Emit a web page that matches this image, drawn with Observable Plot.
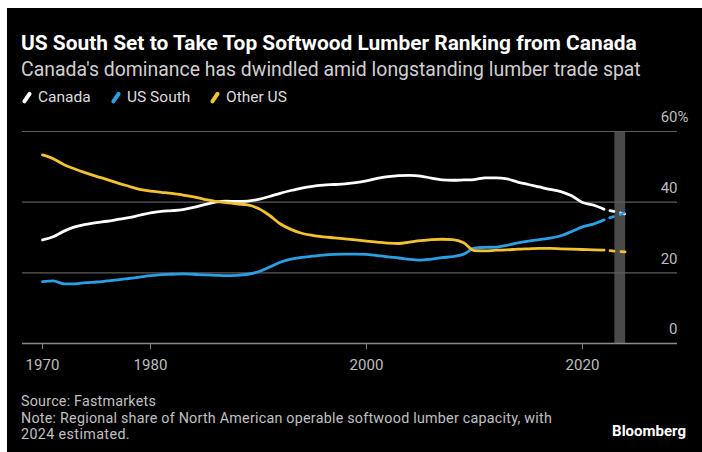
<!DOCTYPE html>
<html><head><meta charset="utf-8">
<script src="https://cdn.jsdelivr.net/npm/d3@7"></script>
<script src="https://cdn.jsdelivr.net/npm/@observablehq/plot@0.6"></script>
<style>
html,body{margin:0;padding:0;background:#fff;width:702px;height:452px;overflow:hidden;position:relative}
#card{position:absolute;left:7px;top:8px;right:0;bottom:0;background:#000;}
.t{position:absolute;white-space:nowrap;font-family:Roboto,"Liberation Sans",sans-serif;line-height:1;}
#chart{position:absolute;left:0;top:105px;}
.sw{position:absolute;width:3.5px;height:13px;border-radius:2px;transform:rotate(35deg);top:91px}
.ft{font-size:14.3px;color:#c0c0c0}
</style></head><body>
<div id="card"></div>
<div class="t" id="title" style="left:21px;top:33px;font-weight:700;font-size:19px;color:#fff">US South Set to Take Top Softwood Lumber Ranking from Canada</div>
<div class="t" id="sub" style="left:21px;top:60px;font-size:17px;color:#d0d0d0">Canada's dominance has dwindled amid longstanding lumber trade spat</div>
<div id="legend"></div>
<div id="chart"></div>
<div class="t ft" id="src" style="left:21px;top:394px">Source: Fastmarkets</div>
<div class="t ft" id="note1" style="left:21px;top:411px">Note: Regional share of North American operable softwood lumber capacity, with</div>
<div class="t ft" id="note2" style="left:21px;top:427px">2024 estimated.</div>
<div class="t" id="brand" style="right:16px;top:424px;font-size:15px;font-weight:700;color:#fff">Bloomberg</div>
<script>
const years = [1970,1971,1972,1973,1974,1975,1976,1977,1978,1979,1980,1981,1982,1983,1984,1985,1986,1987,1988,1989,
  1990,1991,1992,1993,1994,1995,1996,1997,1998,1999,2000,2001,2002,2003,2004,2005,2006,2007,2008,2009,
  2010,2011,2012,2013,2014,2015,2016,2017,2018,2019,2020,2021,2022];
const canada = [29.3,30.2,31.8,33.0,33.7,34.2,34.6,35.1,35.6,36.3,37.0,37.4,37.6,37.9,38.5,39.3,40.0,40.3,40.2,40.3,
  40.8,41.6,42.5,43.3,44.0,44.5,44.8,45.0,45.2,45.5,46.0,46.7,47.2,47.5,47.6,47.4,46.8,46.3,46.2,46.3,
  46.4,46.9,46.9,46.6,45.7,45.0,44.3,43.6,43.0,41.8,39.9,39.2,38.0];
const usSouth = [17.5,17.7,16.9,16.9,17.2,17.4,17.7,18.0,18.4,18.8,19.2,19.5,19.6,19.7,19.6,19.4,19.3,19.2,19.3,19.6,
  20.3,21.6,23.0,23.9,24.4,24.7,25.0,25.2,25.3,25.3,25.2,24.9,24.5,24.2,23.8,23.6,23.9,24.3,24.6,25.3,
  27.0,27.2,27.3,27.8,28.5,29.0,29.4,29.8,30.5,31.7,33.0,33.8,35.0];
const otherUS = [53.4,52.3,50.6,49.4,48.3,47.3,46.4,45.4,44.5,43.6,43.1,42.8,42.5,42.0,41.5,40.8,40.2,39.9,39.5,39.2,
  38.2,36.3,33.9,32.3,31.2,30.6,30.2,29.9,29.6,29.3,29.0,28.7,28.4,28.3,28.7,29.1,29.4,29.5,29.4,28.5,
  26.3,26.2,26.4,26.5,26.7,26.8,26.9,26.9,26.8,26.7,26.6,26.5,26.4];
const estYear = [2024];
const canadaEst = [36.6];
const usSouthEst = [37.1];
const otherUSEst = [25.9];
const seriesNames = ["Canada","US South","Other US"];
const seriesColors = ["#ffffff","#2b9fe3","#f2c230"];
const yTicks = [0,20,40,60];
const xTicks = [1970,1980,2000,2020];
const bandYears = [2023,2024];

const seriesVals = [canada, usSouth, otherUS];
const seriesEst = [canadaEst, usSouthEst, otherUSEst];
const rows = [], estRows = [];
seriesNames.forEach((s, i) => {
  years.forEach((y, j) => rows.push({year: y, value: seriesVals[i][j], series: s}));
  const last = years.length - 1;
  estRows.push({year: years[last], value: seriesVals[i][last], series: s});
  estYear.forEach((y, j) => estRows.push({year: y, value: seriesEst[i][j], series: s}));
});

// legend
const lg = document.getElementById("legend");
const swX = [25, 114, 213], txX = [38, 127, 226];
seriesNames.forEach((s, i) => {
  const sw = document.createElement("div"); sw.className = "sw";
  sw.style.left = swX[i] + "px"; sw.style.background = seriesColors[i];
  lg.appendChild(sw);
  const tx = document.createElement("div"); tx.className = "t";
  tx.style.cssText = `left:${txX[i]}px;top:89.5px;font-size:15.5px;color:#dcdcdc`;
  tx.textContent = s;
  lg.appendChild(tx);
});

function fit(id, w) {
  const el = document.getElementById(id);
  const cur = el.getBoundingClientRect().width;
  const fs = parseFloat(getComputedStyle(el).fontSize);
  return fs * w / cur;
}
function spread(id, w) {
  const el = document.getElementById(id);
  const cur = el.getBoundingClientRect().width;
  el.style.letterSpacing = ((w - cur) / el.textContent.length) + "px";
}
document.getElementById("title").style.fontSize = fit("title", 616) + "px";
document.getElementById("sub").style.fontSize = fit("sub", 620) + "px";
spread("src", 135);
spread("note1", 531);
spread("note2", 109);

const xDom = [1968.15, 2028.8];
const chart = Plot.plot({
  width: 702, height: 280,
  marginLeft: 22, marginRight: 25, marginTop: 26, marginBottom: 42,
  style: {background: "transparent", color: "#bdbdbd", fontFamily: "Roboto, 'Liberation Sans', sans-serif", fontSize: "15px"},
  x: {domain: xDom},
  y: {domain: [0, 60]},
  color: {domain: seriesNames, range: seriesColors},
  marks: [
    Plot.rect([bandYears], {x1: d => d[0], x2: d => d[1], y1: yTicks[0], y2: yTicks[yTicks.length-1], fill: "#4a4a4a"}),
    Plot.ruleY(yTicks.slice(1), {stroke: "#5c5c5c", strokeWidth: 1.2}),
    Plot.ruleY([0], {stroke: "#8a8a8a", strokeWidth: 1.5}),
    Plot.axisX({ticks: xTicks, tickFormat: d => String(d), tickSize: 6, tickPadding: 10, stroke: "#8a8a8a", label: null}),
    Plot.axisY({ticks: yTicks, anchor: "right", tickSize: 0, tickPadding: 0, textAnchor: "end", dy: -14, label: null}),
    Plot.text(["%"], {x: xDom[1], y: yTicks[yTicks.length-1], text: d => d, textAnchor: "start", dy: -14, fill: "#bdbdbd"}),
    Plot.line(rows, {x: "year", y: "value", z: "series", stroke: "series", strokeWidth: 2.8, curve: "monotone-x", strokeLinecap: "round", strokeLinejoin: "round"}),
    Plot.line(estRows, {x: "year", y: "value", z: "series", stroke: "series", strokeWidth: 2.8, strokeDasharray: "4,7", strokeDashoffset: 5, strokeLinecap: "round"})
  ]
});
document.getElementById("chart").appendChild(chart);
</script>
</body></html>
